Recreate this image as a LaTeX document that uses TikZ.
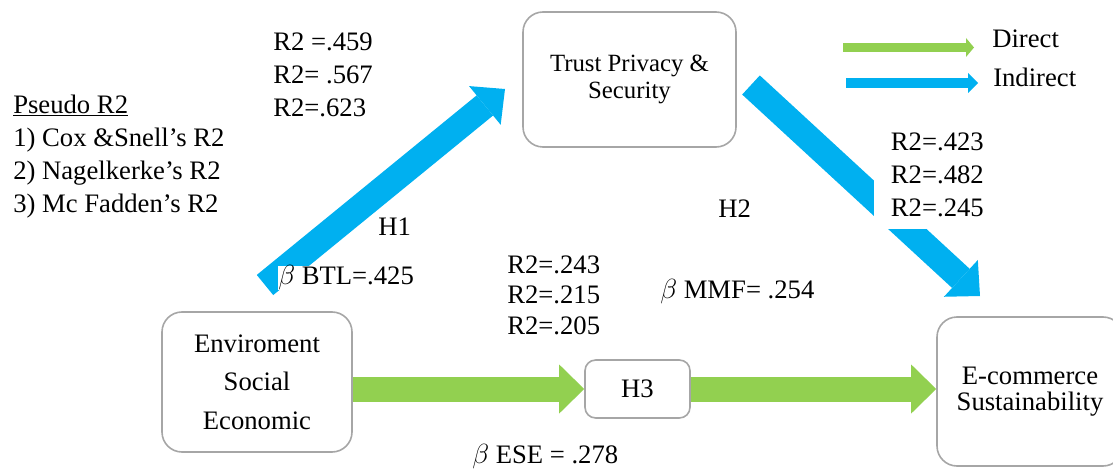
\documentclass[tikz,border=0pt]{standalone}
\usepackage{fontspec}
\setmainfont{Liberation Serif}
\usetikzlibrary{arrows.meta}
\definecolor{arrowblue}{HTML}{00B0F0}
\definecolor{arrowgreen}{HTML}{92D050}
\definecolor{boxgray}{HTML}{A6A6A6}
\tikzset{
	boxstyle/.style={rounded corners=15pt, draw=boxgray, line width=1.2pt, fill=white, align=center, inner sep=0pt, font=\fontsize{20}{24.75}\selectfont},
	bluearrow/.style={draw=arrowblue, line width=19.5pt, -{Triangle[length=19.5pt, width=37.5pt, line width=0pt]}},
	greenarrow/.style={draw=arrowgreen, line width=18.75pt, -{Triangle[length=18.75pt, width=36.75pt, line width=0pt]}},
	legendgreen/.style={draw=arrowgreen, line width=6.75pt, -{Triangle[length=6pt, width=14.25pt, line width=0pt]}},
	legendblue/.style={draw=arrowblue, line width=7.5pt, -{Triangle[length=7.5pt, width=15pt, line width=0pt]}},
	labelstyle/.style={inner sep=0pt, anchor=west, align=left, font=\fontsize{20}{24.75}\selectfont}
}

\begin{document}
\begin{tikzpicture}[x=0.75pt, y=-0.75pt]
	\useasboundingbox (0,0) rectangle (1113,470);
	\node[boxstyle, minimum width=159.75pt, minimum height=101.25pt, font=\fontsize{18.6}{20.25}\selectfont] (trust) at (629.5,79.5) {Trust Privacy \&\\Security};
	\node[boxstyle, minimum width=142.5pt, minimum height=105pt, font=\fontsize{20}{28.9}\selectfont] (env) at (257,382) {Enviroment\\Social\\Economic};
	\node[boxstyle, rounded corners=8pt, minimum width=78.75pt, minimum height=43.5pt] (h3) at (637.5,389) {H3};
	\node[boxstyle, minimum width=139.5pt, minimum height=111.75pt, font=\fontsize{20}{19.5}\selectfont] (ecom) at (1030,391.5) {E-commerce\\Sustainability};
	\coordinate (h1tail) at (265,285);
	\coordinate (h1tip) at (505,89);
	\coordinate (h2tail) at (751,85);
	\coordinate (h2tip) at (980,296);
	\draw[bluearrow] (h1tail) -- (h1tip);
	\draw[bluearrow] (h2tail) -- (h2tip);
	\draw[greenarrow] (env.east |- h3.west) -- (h3.west);
	\draw[greenarrow] (h3.east) -- (ecom.west |- h3.east);
	\node[labelstyle] (direct) at (992,39) {Direct};
	\node[labelstyle] (indirect) at (993,77) {Indirect};
	\coordinate (dstart) at (843,47.5);
	\coordinate (istart) at (846,83);
	\draw[legendgreen, shorten >=13.5pt] (dstart) -- (dstart -| direct.west);
	\draw[legendblue, shorten >=11.25pt] (istart) -- (istart -| indirect.west);
	\node[labelstyle] (pseudo) at (13,156.5) {\underline{Pseudo R2}\\1) Cox \&Snell’s R2\\2) Nagelkerke’s R2\\3) Mc Fadden’s R2};
	\node[labelstyle] (r2h1) at (273,75) {R2 =.459\\R2= .567\\R2=.623};
	\node[labelstyle, fill=white, inner xsep=12.5pt, inner ysep=9pt] (r2h2) at (874,175) {R2=.423\\R2=.482\\R2=.245};
	\node[labelstyle] (lh1) at (378,227) {H1};
	\node[labelstyle] (lh2) at (718,209) {H2};
	\node[labelstyle, fill=white] (btl) at (278,278) {$\beta$ BTL=.425};
	\node[labelstyle, font=\fontsize{20}{22.9}\selectfont] (r2h3) at (507,295) {R2=.243\\R2=.215\\R2=.205};
	\node[labelstyle] (mmf) at (660,292) {$\beta$ MMF= .254};
	\node[labelstyle] (ese) at (472,457) {$\beta$ ESE = .278};
\end{tikzpicture}
\end{document}
